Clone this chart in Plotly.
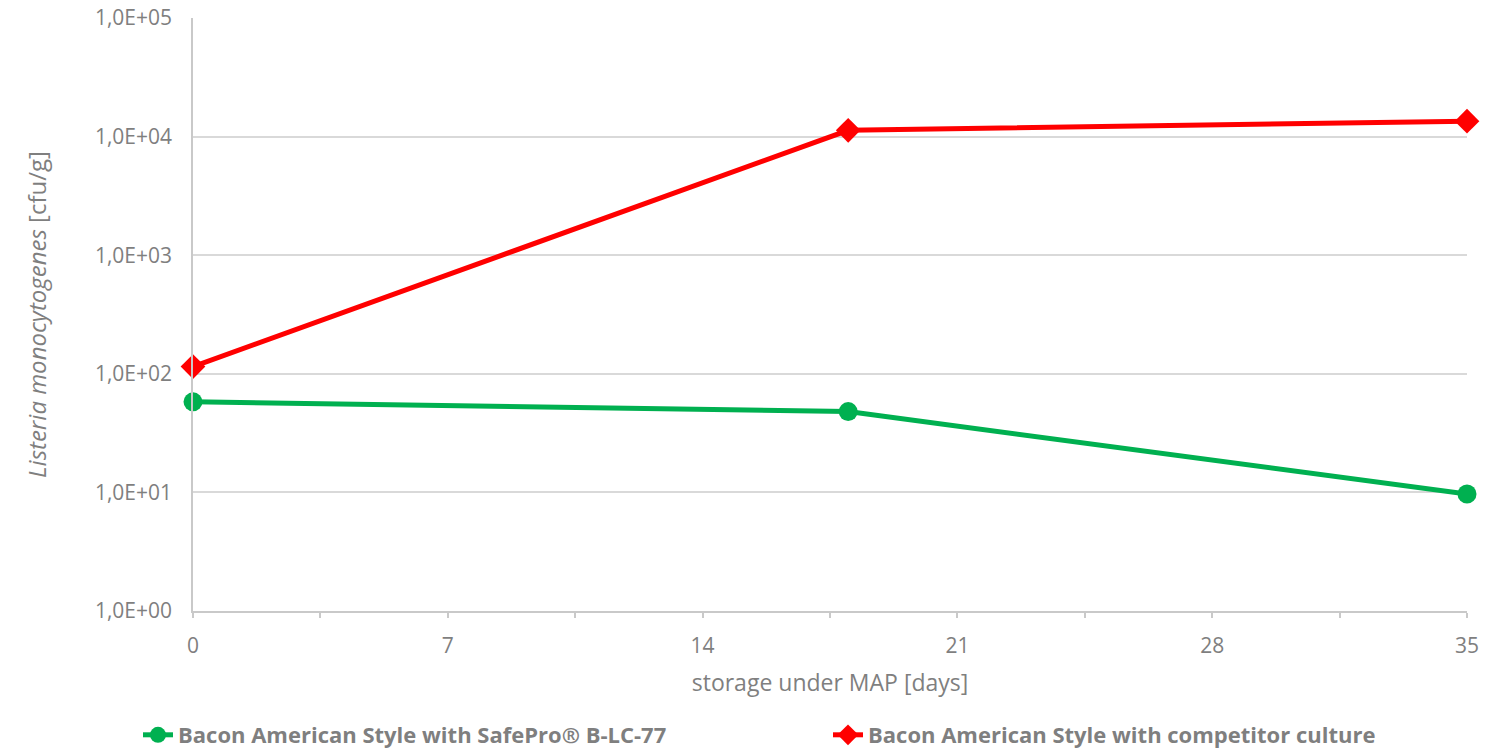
import plotly.graph_objects as go

# Storage time (days under MAP)
days = [0, 18, 35]

# Listeria monocytogenes counts [cfu/g]
safepro_counts = [58, 48, 9.7]
competitor_counts = [115, 11300, 13500]

series_names = [
    "Bacon American Style with SafePro® B-LC-77",
    "Bacon American Style with competitor culture",
]

y_tick_vals = [1, 10, 100, 1000, 10000, 100000]
y_tick_text = ["1,0E+00", "1,0E+01", "1,0E+02", "1,0E+03", "1,0E+04", "1,0E+05"]
x_tick_vals = [0, 7, 14, 21, 28, 35]

FONT = "Open Sans, Calibri, sans-serif"
GREY = "#7f7f7f"
AXIS_GREY = "#c9c9c9"

fig = go.Figure()
fig.add_trace(go.Scatter(
    x=days, y=safepro_counts, name=series_names[0],
    mode="lines+markers",
    line=dict(color="#00B050", width=5),
    marker=dict(symbol="circle", size=19, color="#00B050"),
    cliponaxis=False,
    legend="legend",
))
fig.add_trace(go.Scatter(
    x=days, y=competitor_counts, name=series_names[1],
    mode="lines+markers",
    line=dict(color="#FF0000", width=5),
    marker=dict(symbol="diamond", size=19, color="#FF0000"),
    cliponaxis=False,
    legend="legend2",
))

legend_common = dict(
    orientation="h",
    xanchor="left",
    yref="container", y=1 - 735 / 749, yanchor="middle",
    font=dict(family=FONT, size=22, color=GREY, weight="bold"),
    itemwidth=30,
    bgcolor="rgba(0,0,0,0)",
)

fig.update_layout(
    width=1504, height=749,
    margin=dict(l=193, r=37, t=18, b=138, autoexpand=False),
    plot_bgcolor="white", paper_bgcolor="white",
    font=dict(family=FONT, color=GREY, size=21),
    showlegend=True,
    legend=dict(xref="container", x=138 / 1504, **legend_common),
    legend2=dict(xref="container", x=828 / 1504, **legend_common),
)

fig.update_xaxes(
    range=[0, 35],
    tickvals=x_tick_vals,
    ticks="outside", ticklen=5, tickcolor=AXIS_GREY, tickwidth=1.5,
    minor=dict(dtick=3.5, tick0=0, ticks="outside", ticklen=5,
               tickcolor=AXIS_GREY, tickwidth=1.5, showgrid=False),
    showgrid=False, zeroline=False,
    showline=True, linecolor=AXIS_GREY, linewidth=1.5,
    ticklabelstandoff=10,
    automargin=False,
    title=dict(text="storage under MAP [days]", standoff=17,
               font=dict(family=FONT, size=23, color=GREY)),
    tickfont=dict(family=FONT, size=21, color=GREY),
)

fig.update_yaxes(
    type="log", range=[0, 5],
    tickvals=y_tick_vals, ticktext=y_tick_text,
    ticks="",
    showgrid=True, gridcolor="#d9d9d9", gridwidth=1.5,
    zeroline=False,
    showline=True, linecolor=AXIS_GREY, linewidth=1.5,
    ticklabelstandoff=15,
    automargin=False,
    title=dict(text="<i>Listeria monocytogenes</i> [cfu/g]", standoff=42,
               font=dict(family=FONT, size=24, color=GREY)),
    tickfont=dict(family=FONT, size=21, color=GREY),
)

fig.write_html("out.html")
